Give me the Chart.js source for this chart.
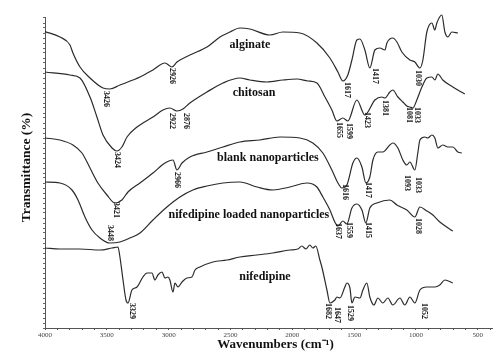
<!DOCTYPE html>
<html>
<head>
<meta charset="utf-8">
<script src="https://cdn.jsdelivr.net/npm/chart.js@4/dist/chart.umd.min.js"></script>
<style>
html,body{margin:0;padding:0;background:#fff;}
#wrap{width:500px;height:358px;}
</style>
</head>
<body>
<div id="wrap"><canvas id="c" width="500" height="358"></canvas></div>
<script>
// x tick labels (wavenumbers)
const xTickValues = [4000,3500,3000,2500,2000,1500,1000,500];

// spectra: wavenumber (cm-1) and transmittance (arbitrary offset units)
const alginateWn = [4000,3879,3798,3774,3717,3636,3531,3475,3394,3232,3127,3030,2973,2933,2828,2690,2585,2504,2424,2343,2181,2076,1939,1801,1696,1631,1591,1551,1518,1478,1453,1413,1373,1332,1292,1251,1235,1187,1154,1114,1049,1009,968,944,912,871,847,831,791,766,742,710,661];
const alginateT  = [148.2,145.5,141.5,137.5,130.5,125,120,119.5,121.5,125.5,129,132.5,130.5,133,136.5,140.5,145.5,148,150,149.5,146.5,148,147.5,142.5,135,128,123.5,126.5,134,144,144.5,139,130,139,140,139,142.5,145,143,138,134,133,130,134,148,152.5,149,152.5,156.5,148,145.5,148,147.5];

const chitosanWn = [4000,3798,3717,3636,3580,3531,3458,3418,3378,3337,3256,3127,3046,2990,2933,2884,2828,2690,2561,2424,2343,2205,2076,1963,1874,1801,1736,1680,1639,1591,1551,1478,1413,1332,1276,1251,1211,1187,1146,1106,1074,1049,1025,993,952,912,871,847,823,783,702,605];
const chitosanT  = [128,126.5,125,115.5,105.5,96.5,90,88.5,90.5,95.5,100.5,105.5,109,110,108.5,109.5,112.5,118,122.5,125,124,123,124,124.5,123.5,122.5,115.5,109,103.5,105,103.5,114,106.5,114,115.5,115,118,119,115.5,113,111,110.5,110,114,120.5,125,125.5,124,127,124,120.5,117];

const blankWn = [4000,3879,3774,3701,3636,3572,3499,3434,3378,3329,3232,3127,3030,2965,2933,2892,2828,2690,2561,2424,2262,2100,1939,1834,1753,1680,1631,1599,1559,1510,1478,1437,1405,1373,1348,1308,1268,1211,1187,1146,1106,1074,1049,1009,985,968,928,904,871,847,823,783,742,702,661,629];
const blankT  = [95,94,91.5,87.5,80,72.5,66.5,62.5,64,68,72.5,77.5,82.5,84,79,82.5,85.5,88,90.5,93,94,95.5,95,92.5,87.5,79,72.5,70,71.5,82.5,85,80.5,72.5,75.5,84,88,88,91.5,92.5,90,84,81.5,83,79,87.5,94,95.5,95,96.5,95,90,91.5,90.5,90.5,88,87.5];

const loadedWn = [4000,3879,3782,3733,3677,3620,3555,3475,3394,3313,3232,3127,3014,2909,2804,2690,2561,2424,2286,2157,2019,1882,1801,1753,1696,1656,1631,1591,1559,1518,1478,1437,1405,1373,1316,1211,1154,1074,1009,968,912,863,807,702];
const loadedT  = [73,72.5,69,64,55.5,49,45,42.5,43,45,47.5,54,60.5,65.5,69,71,72.5,73,70.5,69,70.5,72.5,70.5,65.5,59,53,51,53.5,52,60,62,59,52.5,60,62.5,64,61.5,59,55.5,60.5,58.5,56.5,53,48.5];

const nifedipineWn = [4000,3879,3717,3555,3458,3410,3394,3369,3345,3329,3297,3256,3208,3175,3135,3111,3087,3054,3030,3006,2990,2965,2949,2925,2892,2852,2812,2787,2747,2642,2529,2424,2286,2157,2019,1955,1923,1890,1858,1834,1810,1777,1761,1720,1696,1656,1639,1615,1575,1559,1534,1518,1494,1453,1429,1397,1373,1340,1308,1268,1227,1187,1130,1090,1049,1009,968,912,847,807,766,702];
const nifedipineT  = [40,39.5,39.5,39,40,40.5,35.5,24,14,12.5,19,20.5,25.5,27.5,27.5,24,26.5,28,25,25.5,24,18,22.5,20.5,23,25,25.5,29,30.5,33,34,35.5,36.5,37.5,39,39.5,41,39.5,41.5,40,41,34,30.5,19,12.5,14,15.5,15,20.5,22.5,20,12.5,15.5,15,19,22.5,15.5,11.5,15,12.5,15,11.5,15,11.5,15.5,12.5,19,20.5,20.5,21.5,24,22.5];

// series names and where they are written
const seriesNames = ["alginate","chitosan","blank nanoparticles","nifedipine loaded nanoparticles","nifedipine"];
const seriesNameWn = [2343,2310,2197,2351,2221];
const seriesNameT  = [141.5,117.5,85,56.5,25.5];

// peak labels (text, anchor wavenumber, anchor transmittance)
const peakText = ["3426","2926","1617","1417","1030",
                  "3424","2922","2876","1655","1599","1423","1381","1081","1033",
                  "3421","2966","1616","1417","1093","1033",
                  "3448","1637","1559","1415","1028",
                  "3329","1682","1647","1529","1052"];
const peakWn = [3507,2973,1559,1332,985,
                3418,2973,2860,1623,1543,1397,1251,1057,993,
                3426,2933,1575,1389,1074,985,
                3475,1631,1543,1389,985,
                3297,1712,1639,1534,936];
const peakT  = [118.5,130,123,130,129,
                88,107.5,107.5,103,102.5,108,114,110.5,110.5,
                63,78,72,73,76.5,75.5,
                51.5,52.5,53,53,55,
                12.5,12.5,10.5,11.5,12.5];

function pts(wn, t){ return wn.map((w,i)=>({x:w, y:t[i]})); }

const lineColor = '#2b2b2b';
const mk = (label, wn, t) => ({
  label, data: pts(wn,t), borderColor: lineColor, borderWidth: 1.2,
  pointRadius: 0, fill: false, cubicInterpolationMode: 'monotone', clip: false
});

const annot = {
  id: 'annot',
  afterDatasetsDraw(chart){
    const {ctx, scales:{x, y}, chartArea} = chart;
    ctx.save();
    ctx.fillStyle = '#111';
    ctx.font = 'bold 12px "Liberation Serif"';
    ctx.textAlign = 'center';
    ctx.textBaseline = 'middle';
    seriesNames.forEach((n,i)=>{
      ctx.fillText(n, x.getPixelForValue(seriesNameWn[i]), y.getPixelForValue(seriesNameT[i]));
    });
    ctx.font = 'bold 8px "Liberation Serif"';
    peakText.forEach((t,i)=>{
      ctx.save();
      ctx.translate(x.getPixelForValue(peakWn[i]), y.getPixelForValue(peakT[i]));
      ctx.rotate(Math.PI/2);
      ctx.textAlign = 'left';
      ctx.textBaseline = 'middle';
      ctx.fillText(t, 0, 0);
      ctx.restore();
    });
    // axis titles
    ctx.font = 'bold 13px "Liberation Serif"';
    ctx.textAlign = 'center';
    ctx.textBaseline = 'middle';
    ctx.fillText('Wavenumbers (cm\u207B\u00B9)', (chartArea.left+chartArea.right)/2 + 7, chart.height - 13);
    ctx.save();
    ctx.translate(27, (chartArea.top+chartArea.bottom)/2 - 5);
    ctx.rotate(-Math.PI/2);
    ctx.font = 'bold 13.5px "Liberation Serif"';
    ctx.fillText('Transmittance (%)', 0, 0);
    ctx.restore();
    ctx.restore();
  }
};

new Chart(document.getElementById('c'), {
  type: 'line',
  data: {
    datasets: [
      mk('alginate', alginateWn, alginateT),
      mk('chitosan', chitosanWn, chitosanT),
      mk('blank nanoparticles', blankWn, blankT),
      mk('nifedipine loaded nanoparticles', loadedWn, loadedT),
      mk('nifedipine', nifedipineWn, nifedipineT)
    ]
  },
  options: {
    responsive: false,
    animation: false,
    devicePixelRatio: 1,
    layout: { padding: { top: 17, right: 8, left: 0, bottom: 0 } },
    plugins: { legend: { display: false }, tooltip: { enabled: false } },
    scales: {
      x: {
        type: 'linear', reverse: true, min: 385, max: 4000,
        afterBuildTicks(s){
          const t = [];
          for (let v = 400; v <= 4000; v += 100) t.push({value: v});
          s.ticks = t;
        },
        afterFit(s){ s.height = 30; },
        ticks: {
          autoSkip: false, maxRotation: 0, padding: 1,
          color: '#444', font: { family: '"Liberation Serif"', size: 7 },
          callback: (v) => xTickValues.includes(v) ? String(v) : ''
        },
        grid: { drawOnChartArea: false, drawTicks: true, tickLength: 2, color: '#555' },
        border: { display: true, color: '#555', width: 1 }
      },
      y: {
        type: 'linear', min: 0, max: 155.5,
        afterBuildTicks(s){
          const t = [];
          for (let v = 0; v <= 155.5; v += 2.5) t.push({value: v});
          s.ticks = t;
        },
        afterFit(s){ s.width = 45; },
        ticks: { display: false },
        grid: { drawOnChartArea: false, drawTicks: true, tickLength: 2, color: '#666' },
        border: { display: true, color: '#555', width: 1 }
      }
    }
  },
  plugins: [annot]
});
</script>
</body>
</html>
